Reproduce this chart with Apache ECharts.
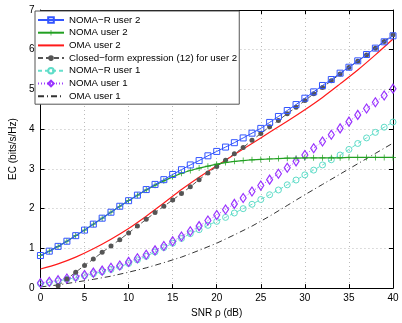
<!DOCTYPE html>
<html>
<head>
<meta charset="utf-8">
<script src="https://cdn.jsdelivr.net/npm/echarts@6/dist/echarts.min.js"></script>
<style>html,body{margin:0;padding:0;background:#fff}#c{width:402px;height:323px}</style>
</head>
<body>
<div id="c"></div>
<script>
// SNR grid (dB) for marker series
const snr = [0,1,2,3,4,5,6,7,8,9,10,11,12,13,14,15,16,17,18,19,20,21,22,23,24,25,26,27,28,29,30,31,32,33,34,35,36,37,38,39,40];
const nomaRUser2 = [0.82,0.93,1.05,1.18,1.32,1.46,1.61,1.76,1.91,2.06,2.20,2.34,2.48,2.61,2.73,2.86,2.98,3.10,3.21,3.33,3.44,3.55,3.66,3.78,3.90,4.02,4.17,4.32,4.47,4.62,4.78,4.94,5.10,5.25,5.41,5.56,5.72,5.88,6.04,6.20,6.35];
const nomaUser2 = [0.82,0.93,1.05,1.18,1.32,1.46,1.61,1.76,1.91,2.06,2.20,2.34,2.47,2.59,2.70,2.80,2.89,2.96,3.02,3.07,3.12,3.16,3.19,3.21,3.23,3.24,3.25,3.26,3.27,3.27,3.28,3.28,3.28,3.28,3.28,3.29,3.29,3.29,3.29,3.29,3.29];
const nomaRUser1 = [0.11,0.14,0.18,0.22,0.26,0.31,0.36,0.41,0.47,0.54,0.62,0.71,0.80,0.91,1.02,1.13,1.25,1.37,1.47,1.58,1.68,1.78,1.89,2.00,2.11,2.23,2.35,2.47,2.60,2.72,2.85,2.97,3.10,3.23,3.35,3.49,3.64,3.78,3.92,4.05,4.18];
const nomaUser1 = [0.13,0.16,0.20,0.24,0.29,0.33,0.39,0.44,0.51,0.57,0.66,0.75,0.84,0.95,1.06,1.18,1.30,1.43,1.56,1.70,1.84,1.98,2.12,2.27,2.43,2.58,2.73,2.88,3.03,3.19,3.35,3.52,3.69,3.86,4.02,4.19,4.36,4.52,4.68,4.85,5.02];
// closed-form expression (12), from 2 dB
const snrCF = [2,3,4,5,6,7,8,9,10,11,12,13,14,15,16,17,18,19,20,21,22,23,24,25,26,27,28,29,30,31,32,33,34,35,36,37,38,39,40];
const closedForm = [0.06,0.23,0.40,0.57,0.73,0.90,1.06,1.22,1.39,1.56,1.73,1.90,2.06,2.22,2.38,2.55,2.73,2.90,3.06,3.22,3.38,3.54,3.72,3.89,4.06,4.22,4.39,4.55,4.72,4.89,5.05,5.22,5.39,5.55,5.71,5.87,6.04,6.21,6.38];
// OMA curves (no markers), every 2 dB
const snrOMA = [0,2,4,6,8,10,12,14,16,18,20,22,24,26,28,30,32,34,36,38,40];
const omaUser2 = [0.48,0.61,0.78,0.99,1.23,1.50,1.81,2.14,2.48,2.79,3.08,3.36,3.64,3.92,4.20,4.49,4.80,5.14,5.49,5.87,6.27];
const omaUser1 = [0.03,0.08,0.15,0.22,0.30,0.40,0.51,0.64,0.78,0.95,1.13,1.34,1.56,1.81,2.08,2.35,2.61,2.87,3.13,3.39,3.65];

const xTicks = {min:0, max:40, interval:5};
const yTicks = {min:0, max:7, interval:1};

const names = ['NOMA\u2212R user 2','NOMA user 2','OMA user 2','Closed\u2212form expression (12) for user 2','NOMA\u2212R user 1','NOMA user 1','OMA user 1'];

const pair = (xs, ys) => xs.map((x,i)=>[x, ys[i]]);
const FONT = 'Liberation Sans';
const plus = 'path://M4.4,0H5.6V4.4H10V5.6H5.6V10H4.4V5.6H0V4.4H4.4Z';
const hidden = {color:'rgba(0,0,0,0)', borderColor:'rgba(0,0,0,0)', borderWidth:0};

const chart = echarts.init(document.getElementById('c'), null, {renderer:'canvas'});
const axisCommon = {
  type:'value',
  axisLine:{show:true, onZero:false, lineStyle:{color:'#000', width:1}},
  axisTick:{show:true, inside:true, length:4, lineStyle:{color:'#000'}},
  axisLabel:{color:'#000', fontFamily:FONT, fontSize:10},
};
chart.setOption({
  animation:false,
  backgroundColor:'#fff',
  textStyle:{fontFamily:FONT},
  grid:{left:30, right:9, top:10, bottom:27, containLabel:false},
  xAxis:[
    Object.assign({}, axisCommon, xTicks, {position:'bottom',
      name:'SNR \u03c1 (dB)', nameLocation:'middle', nameGap:15,
      nameTextStyle:{color:'#000', fontFamily:FONT, fontSize:10},
      axisLabel:{color:'#000', fontFamily:FONT, fontSize:10, margin:5},
      splitLine:{show:true, lineStyle:{color:'#bbb', type:[1,3], width:1}}}),
    Object.assign({}, axisCommon, xTicks, {position:'top', axisLabel:{show:false}, splitLine:{show:false}})
  ],
  yAxis:[
    Object.assign({}, axisCommon, yTicks, {position:'left',
      name:'EC (bits/s/Hz)', nameLocation:'middle', nameGap:19, nameRotate:90,
      nameTextStyle:{color:'#000', fontFamily:FONT, fontSize:10},
      axisLabel:{color:'#000', fontFamily:FONT, fontSize:10, margin:6},
      splitLine:{show:true, lineStyle:{color:'#bbb', type:[1,3], width:1}}}),
    Object.assign({}, axisCommon, yTicks, {position:'right', axisLabel:{show:false}, splitLine:{show:false}})
  ],
  legend:{
    orient:'vertical', left:35, top:11,
    padding:[3,2,2,2], itemGap:0.7, itemWidth:26, itemHeight:7,
    backgroundColor:'#fff', borderColor:'#555', borderWidth:1,
    textStyle:{color:'#000', fontFamily:FONT, fontSize:9.7, lineHeight:12},
    data:[
      {name:names[0]}, {name:names[1]},
      {name:names[2], itemStyle:hidden},
      {name:names[3]}, {name:names[4]}, {name:names[5]},
      {name:names[6], itemStyle:hidden}
    ]
  },
  series:[
    {name:names[6], type:'line', data:pair(snrOMA, omaUser1), showSymbol:false, symbol:'none',
      lineStyle:{color:'#333', width:1, type:[6,3,1,3]}, itemStyle:{color:'#333'}, z:2},
    {name:names[4], type:'line', data:pair(snr, nomaRUser1), symbol:'circle', symbolSize:6,
      lineStyle:{color:'#66e0cc', width:1, type:[4,3]},
      itemStyle:{color:'rgba(0,0,0,0)', borderColor:'#5fdcc8', borderWidth:1}, z:3},
    {name:names[5], type:'line', data:pair(snr, nomaUser1), symbol:'diamond', symbolSize:[6,9],
      lineStyle:{color:'#a040ff', width:1, type:[1,2]},
      itemStyle:{color:'rgba(0,0,0,0)', borderColor:'#9933ff', borderWidth:1.2}, z:4},
    {name:names[2], type:'line', data:pair(snrOMA, omaUser2), showSymbol:false, symbol:'none', smooth:0.3,
      lineStyle:{color:'#ff1a1a', width:1.2}, itemStyle:{color:'#ff1a1a'}, z:5},
    {name:names[3], type:'line', data:pair(snrCF, closedForm), symbol:'circle', symbolSize:5,
      lineStyle:{color:'#555', width:1, type:[5,3]}, itemStyle:{color:'#555'}, z:6},
    {name:names[1], type:'line', data:pair(snr, nomaUser2), symbol:plus, symbolSize:6,
      lineStyle:{color:'#22a022', width:1.2}, itemStyle:{color:'#22a022'}, z:7},
    {name:names[0], type:'line', data:pair(snr, nomaRUser2), symbol:'rect', symbolSize:6,
      lineStyle:{color:'#3355ff', width:1}, itemStyle:{color:'rgba(0,0,0,0)', borderColor:'#3355ff', borderWidth:1}, z:8}
  ]
});
</script>
</body>
</html>
